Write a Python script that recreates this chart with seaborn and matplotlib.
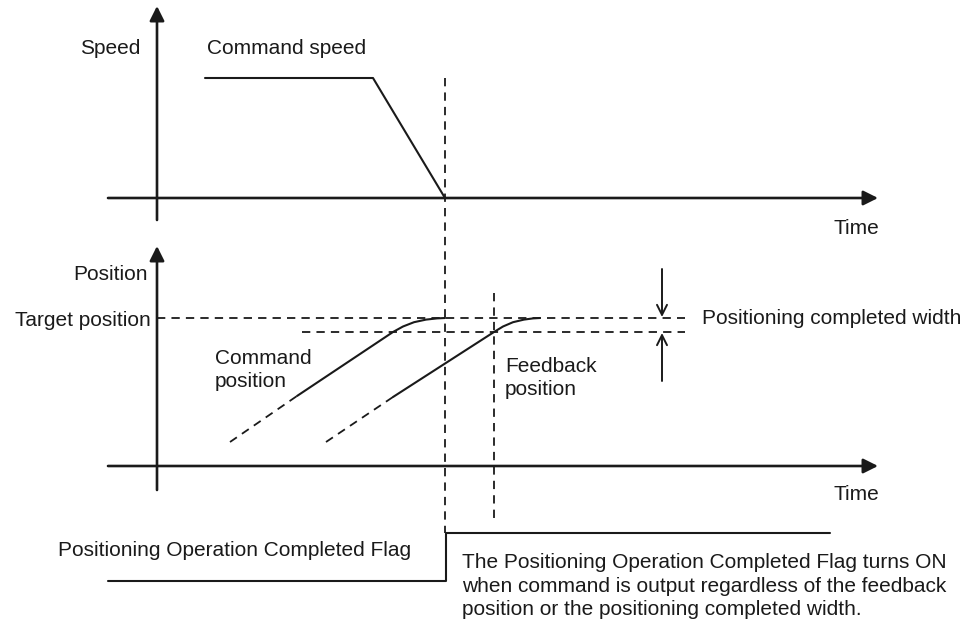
import matplotlib
matplotlib.use("Agg")
import matplotlib.pyplot as plt
import seaborn as sns
import pandas as pd

# ---- data (diagram coordinates, pixel-like units, y downward) ----
speed_x = [205, 373, 445]
speed_y = [78, 78, 198]

cmd_dash_x = [230, 297]
cmd_dash_y = [442, 396]
cmd_x = [297, 393, 403, 414, 426, 437, 445]
cmd_y = [396, 332, 326.5, 322.2, 319.6, 318.4, 318]

fb_dash_x = [326, 393]
fb_dash_y = [442, 397]
fb_x = [393, 494, 503, 513, 524, 533, 540]
fb_y = [397, 332, 326.5, 322.2, 319.6, 318.4, 318]

flag_x = [108, 446, 446, 830]
flag_y = [581, 581, 533, 533]

target_y = 318
width_y = 332
cmd_done_x = 445
fb_done_x = 494

sns.set_theme(style="white")
plt.rcParams['font.family'] = ['Liberation Sans', 'DejaVu Sans']

fig = plt.figure(figsize=(9.71, 6.30), dpi=100)
ax = fig.add_axes([0, 0, 1, 1])
ax.set_xlim(0, 971)
ax.set_ylim(630, 0)
ax.axis("off")

K = "#1a1a1a"
AX_LW = 1.9
LINE_LW = 1.5
DASH_LW = 1.3
DASH = (0, (4.6, 3.4))
FS = 15

def solid(x, y, lw=LINE_LW):
    sns.lineplot(x=x, y=y, ax=ax, color=K, lw=lw, sort=False, estimator=None)

def dashed(x, y):
    sns.lineplot(x=x, y=y, ax=ax, color=K, lw=DASH_LW, sort=False,
                 estimator=None, linestyle=DASH)

def axis_arrow(x0, y0, x1, y1):
    ax.annotate("", xy=(x1, y1), xytext=(x0, y0),
                arrowprops=dict(arrowstyle="-|>", color=K, lw=AX_LW,
                                mutation_scale=22, shrinkA=0, shrinkB=0))

# axes of top (speed) chart
axis_arrow(157, 220, 157, 6)
axis_arrow(108, 198, 878, 198)
# axes of position chart
axis_arrow(157, 490, 157, 246)
axis_arrow(108, 466, 878, 466)

# command speed
solid(speed_x, speed_y)

# reference dashed lines
dashed([cmd_done_x, cmd_done_x], [78, 533])
dashed([fb_done_x, fb_done_x], [293, 523])
dashed([157, 685], [target_y, target_y])
dashed([302, 685], [width_y, width_y])

# command / feedback position
dashed(cmd_dash_x, cmd_dash_y)
solid(cmd_x, cmd_y)
dashed(fb_dash_x, fb_dash_y)
solid(fb_x, fb_y)

# flag
solid(flag_x, flag_y)

# width arrows
for y0, y1 in [(269, target_y - 1), (381, width_y + 1)]:
    ax.annotate("", xy=(662, y1), xytext=(662, y0),
                arrowprops=dict(arrowstyle="->", color=K, lw=1.4,
                                mutation_scale=18, shrinkA=0, shrinkB=0))

# texts
def txt(x, y, s, ha="left", va="center"):
    ax.text(x, y, s, ha=ha, va=va, fontsize=FS, color=K, linespacing=1.27)

txt(80, 48, "Speed")
txt(207, 48, "Command speed")
txt(834, 229, "Time")
txt(73, 274, "Position")
txt(151, 320, "Target position", ha="right")
txt(215, 370, "Command\nposition")
txt(505, 378, "Feedback\nposition")
txt(702, 318, "Positioning completed width")
txt(834, 495, "Time")
txt(58, 551, "Positioning Operation Completed Flag")
txt(462, 586, "The Positioning Operation Completed Flag turns ON\n"
              "when command is output regardless of the feedback\n"
              "position or the positioning completed width.")

fig.savefig("out.png", dpi=100, facecolor="white")
